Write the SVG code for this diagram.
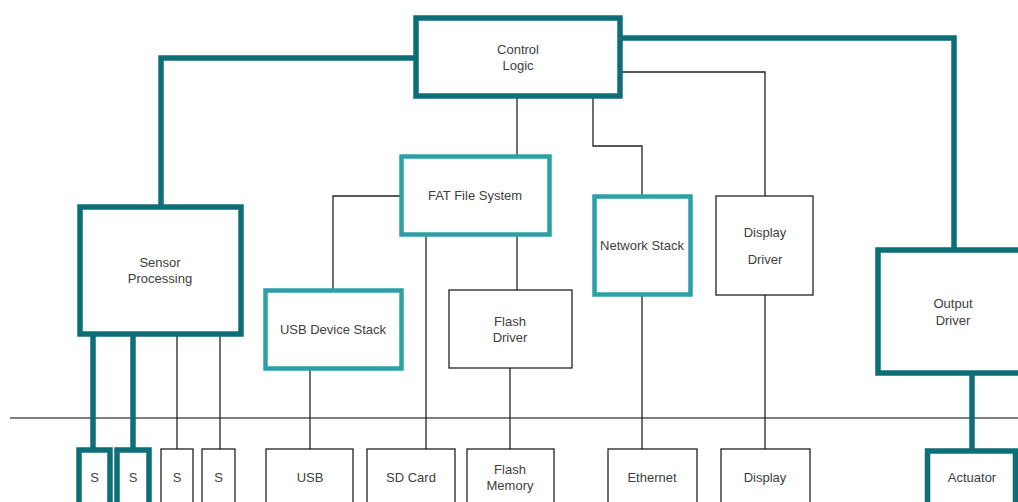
<svg xmlns="http://www.w3.org/2000/svg" width="1018" height="502" viewBox="0 0 1018 502">
<style>
text{font-family:"Liberation Sans",Arial,sans-serif;font-size:13px;fill:#404040;text-anchor:middle}
.dk{fill:#fff;stroke:#0d6e77;stroke-width:5.5}
.lt{fill:#fff;stroke:#2aa1a6;stroke-width:4.5}
.th{fill:#fff;stroke:#222;stroke-width:1.3}
.c{fill:none;stroke:#222;stroke-width:1.3}
.ct{fill:none;stroke:#0d6e77;stroke-width:5.5}
</style>
<rect width="1018" height="502" fill="#fff"/>
<g id="connectors">
<line x1="10" y1="418" x2="1018" y2="418" stroke="#555" stroke-width="1.5"/>
<polyline class="ct" points="416,58 161,58 161,207"/>
<polyline class="ct" points="620,38 954,38 954,250"/>
<polyline class="c" points="620,72 765,72 765,196"/>
<polyline class="c" points="517,98 517,156"/>
<polyline class="c" points="593,98 593,146 642,146 642,196"/>
<polyline class="c" points="401,196 333,196 333,290"/>
<polyline class="c" points="426,236 426,449"/>
<polyline class="c" points="517,236 517,290"/>
<polyline class="c" points="510,368 510,449"/>
<polyline class="c" points="310,370 310,449"/>
<polyline class="c" points="642,296 642,449"/>
<polyline class="c" points="765,295 765,449"/>
<polyline class="ct" points="93,334 93,449"/>
<polyline class="ct" points="133,334 133,449"/>
<polyline class="c" points="177,334 177,449"/>
<polyline class="c" points="220,334 220,449"/>
<polyline class="ct" points="972,374 972,450"/>
</g>
<g id="control-logic"><rect class="dk" x="416" y="18" width="204" height="78"/><text x="518" y="54">Control</text><text x="518" y="70">Logic</text></g>
<g id="sensor-processing"><rect class="dk" x="80" y="207" width="161" height="127"/><text x="160" y="267">Sensor</text><text x="160" y="283">Processing</text></g>
<g id="fat-file-system"><rect class="lt" x="401.5" y="156.5" width="148" height="78"/><text x="475" y="200">FAT File System</text></g>
<g id="usb-device-stack"><rect class="lt" x="265.5" y="290.5" width="136" height="78"/><text x="333" y="334">USB Device Stack</text></g>
<g id="flash-driver"><rect class="th" x="449" y="290" width="123" height="78"/><text x="510" y="326">Flash</text><text x="510" y="342">Driver</text></g>
<g id="network-stack"><rect class="lt" x="594.5" y="196.5" width="96" height="98"/><text x="642" y="250">Network  Stack</text></g>
<g id="display-driver"><rect class="th" x="716" y="196" width="97" height="99"/><text x="765" y="237">Display</text><text x="765" y="264">Driver</text></g>
<g id="output-driver"><rect class="dk" x="878" y="250" width="150" height="123"/><text x="953" y="308">Output</text><text x="953" y="325">Driver</text></g>
<g id="s1"><rect class="dk" x="79" y="450" width="31" height="60"/><text x="94.5" y="482">S</text></g>
<g id="s2"><rect class="dk" x="117" y="450" width="32" height="60"/><text x="133" y="482">S</text></g>
<g id="s3"><rect class="th" x="161" y="449" width="32" height="60"/><text x="177" y="482">S</text></g>
<g id="s4"><rect class="th" x="202" y="449" width="33" height="60"/><text x="218.5" y="482">S</text></g>
<g id="usb"><rect class="th" x="266" y="449" width="87" height="60"/><text x="310" y="482">USB</text></g>
<g id="sd-card"><rect class="th" x="367" y="449" width="88" height="60"/><text x="411" y="482">SD Card</text></g>
<g id="flash-memory"><rect class="th" x="467" y="449" width="87" height="60"/><text x="510" y="474">Flash</text><text x="510" y="490">Memory</text></g>
<g id="ethernet"><rect class="th" x="608" y="449" width="89" height="60"/><text x="652" y="482">Ethernet</text></g>
<g id="display"><rect class="th" x="721" y="449" width="89" height="60"/><text x="765" y="482">Display</text></g>
<g id="actuator"><rect class="dk" x="927.5" y="451" width="88" height="60"/><text x="972" y="482">Actuator</text></g>
</svg>
